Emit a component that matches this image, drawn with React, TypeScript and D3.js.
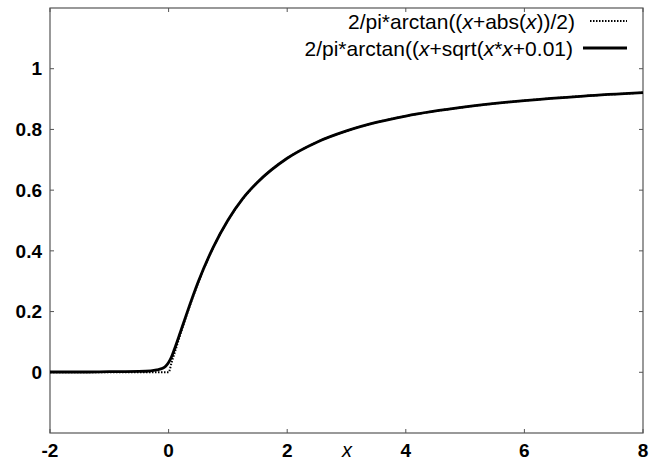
import React from 'react';
import * as d3 from 'd3';

// values
const xs = [-2, -1.5, -1, -0.5, -0.3, -0.2, -0.1, -0.05, 0, 0.05, 0.1, 0.2, 0.3, 0.5, 0.75, 1, 1.25, 1.5, 2, 2.5, 3, 3.5, 4, 5, 6, 7, 8];
const absSeries = [0, 0, 0, 0, 0, 0, 0, 0, 0, 0.032, 0.063, 0.126, 0.186, 0.295, 0.41, 0.5, 0.571, 0.626, 0.705, 0.758, 0.795, 0.823, 0.844, 0.874, 0.895, 0.91, 0.921];
const sqrtSeries = [0.001, 0.001, 0.002, 0.003, 0.005, 0.008, 0.013, 0.02, 0.032, 0.051, 0.077, 0.133, 0.19, 0.298, 0.411, 0.501, 0.572, 0.626, 0.705, 0.758, 0.795, 0.823, 0.844, 0.874, 0.895, 0.91, 0.921];
const xTicks = [-2, 0, 2, 4, 6, 8];
const yTicks = [0, 0.2, 0.4, 0.6, 0.8, 1];
const legendLabels = ['abs', 'sqrt'];

const W = 663, H = 464;
const m = { left: 50, right: 20, top: 8, bottom: 31 };

export default function App() {
  const x = d3.scaleLinear().domain([-2, 8]).range([m.left, W - m.right]);
  const y = d3.scaleLinear().domain([-0.2, 1.2]).range([H - m.bottom, m.top]);
  const line = d3.line<number>()
    .x((_, i) => x(xs[i]))
    .y(d => y(d))
    .curve(d3.curveMonotoneX);

  const font = '"Liberation Sans", Arial, sans-serif';
  const frame = '#555';
  const x0 = x(-2), x1 = x(8), yb = y(-0.2), yt = y(1.2);

  return (
    <svg width={W} height={H} style={{ position: 'absolute', left: 0, top: 0, background: '#fff' }}>
      <rect x={x0} y={yt} width={x1 - x0} height={yb - yt} fill="none" stroke={frame} strokeWidth={1.2} />
      {xTicks.map(t => (
        <g key={'x' + t}>
          <line x1={x(t)} x2={x(t)} y1={yb} y2={yb - 4} stroke={frame} />
          <line x1={x(t)} x2={x(t)} y1={yt} y2={yt + 4} stroke={frame} />
          <text x={x(t)} y={457} textAnchor="middle" fontFamily={font} fontSize={19} fontWeight="bold">{t}</text>
        </g>
      ))}
      {yTicks.map(t => (
        <g key={'y' + t}>
          <line x1={x0} x2={x0 + 4} y1={y(t)} y2={y(t)} stroke={frame} />
          <line x1={x1} x2={x1 - 4} y1={y(t)} y2={y(t)} stroke={frame} />
          <text x={42} y={y(t)} dy="0.35em" textAnchor="end" fontFamily={font} fontSize={19} fontWeight="bold">{t}</text>
        </g>
      ))}
      <text x={347} y={457} textAnchor="middle" fontFamily={font} fontSize={20} fontStyle="italic">x</text>

      <path d={line(sqrtSeries) ?? ''} fill="none" stroke="#000" strokeWidth={2.8} />
      <path d={line(absSeries) ?? ''} fill="none" stroke="#000" strokeWidth={2} strokeDasharray="1.5,1.5" />

      {/* legend */}
      <g fontFamily={font} fontSize={21} textAnchor="end">
        <text x={575} y={29}>
          2/pi*arctan((<tspan fontStyle="italic">x</tspan>+abs(<tspan fontStyle="italic">x</tspan>))/2)
        </text>
        <line x1={590} x2={627} y1={21} y2={21} stroke="#000" strokeWidth={2} strokeDasharray="1.5,1.5" data-key={legendLabels[0]} />
        <text x={573} y={56}>
          2/pi*arctan((<tspan fontStyle="italic">x</tspan>+sqrt(<tspan fontStyle="italic">x</tspan>*<tspan fontStyle="italic">x</tspan>+0.01)
        </text>
        <line x1={583} x2={627} y1={48} y2={48} stroke="#000" strokeWidth={3} data-key={legendLabels[1]} />
      </g>
    </svg>
  );
}
